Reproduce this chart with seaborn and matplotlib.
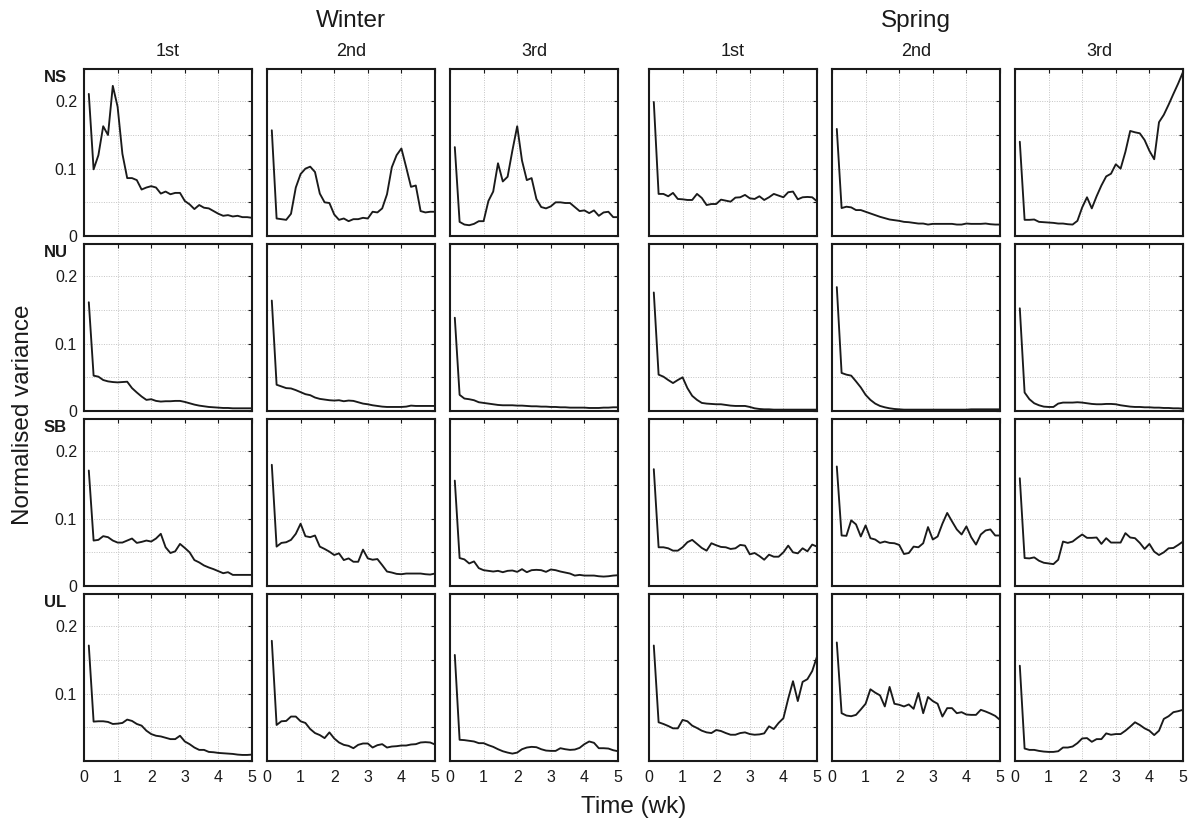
import numpy as np
import pandas as pd
import seaborn as sns
import matplotlib
matplotlib.use("Agg")
import matplotlib.pyplot as plt

"""
# normalised variance over five weeks, per site (rows),
# season and deployment (columns)
"""

# one value per day, days 1..35
days = list(range(1, 36))

sites = ["NS", "NU", "SB", "UL"]
seasons = ["Winter", "Spring"]
deployments = ["1st", "2nd", "3rd"]

# ---- NS ----
ns_winter_1 = [0.211, 0.099, 0.12, 0.163, 0.15, 0.223, 0.192, 0.122, 0.086, 0.086,
               0.083, 0.069, 0.072, 0.074, 0.072, 0.063, 0.066, 0.062, 0.064, 0.064,
               0.052, 0.047, 0.040, 0.046, 0.042, 0.041, 0.037, 0.033, 0.030, 0.031,
               0.029, 0.030, 0.028, 0.028, 0.027]
ns_winter_2 = [0.157, 0.026, 0.025, 0.024, 0.033, 0.072, 0.092, 0.100, 0.103, 0.095,
               0.063, 0.050, 0.049, 0.032, 0.024, 0.026, 0.022, 0.025, 0.025, 0.027,
               0.026, 0.036, 0.035, 0.041, 0.062, 0.102, 0.120, 0.130, 0.102, 0.073,
               0.075, 0.037, 0.035, 0.036, 0.036]
ns_winter_3 = [0.132, 0.021, 0.017, 0.016, 0.018, 0.022, 0.022, 0.052, 0.066, 0.108,
               0.081, 0.088, 0.127, 0.163, 0.112, 0.083, 0.086, 0.055, 0.043, 0.041,
               0.044, 0.050, 0.050, 0.049, 0.049, 0.043, 0.037, 0.038, 0.034, 0.038,
               0.030, 0.035, 0.036, 0.028, 0.028]
ns_spring_1 = [0.199, 0.0625, 0.0625, 0.059, 0.064, 0.055, 0.0545, 0.0535, 0.0535, 0.0625,
               0.0565, 0.046, 0.0475, 0.0475, 0.054, 0.0525, 0.051, 0.057, 0.0575, 0.061,
               0.056, 0.055, 0.059, 0.0535, 0.0575, 0.0625, 0.06, 0.0575, 0.065, 0.066,
               0.0545, 0.0575, 0.058, 0.0575, 0.0515]
ns_spring_2 = [0.159, 0.0415, 0.0435, 0.0425, 0.0385, 0.0385, 0.036, 0.0335, 0.031, 0.0285,
               0.0265, 0.0245, 0.0235, 0.0225, 0.021, 0.0205, 0.0195, 0.0185, 0.0185, 0.017,
               0.018, 0.018, 0.018, 0.018, 0.018, 0.017, 0.017, 0.0185, 0.018, 0.018,
               0.018, 0.0185, 0.0175, 0.017, 0.017]
ns_spring_3 = [0.14, 0.024, 0.024, 0.0245, 0.021, 0.0205, 0.02, 0.0195, 0.0185, 0.0185,
               0.0175, 0.017, 0.0225, 0.0425, 0.0575, 0.041, 0.059, 0.075, 0.0885, 0.0925,
               0.1065, 0.1, 0.125, 0.156, 0.154, 0.1525, 0.1425, 0.1265, 0.114, 0.169,
               0.18, 0.195, 0.211, 0.2265, 0.2435]

# ---- NU ----
nu_winter_1 = [0.1615, 0.0525, 0.051, 0.046, 0.044, 0.043, 0.0425, 0.043, 0.0435, 0.034,
               0.0275, 0.0215, 0.0165, 0.0175, 0.015, 0.014, 0.0145, 0.0145, 0.015, 0.015,
               0.0135, 0.0115, 0.0095, 0.008, 0.007, 0.006, 0.0055, 0.005, 0.0045, 0.0045,
               0.004, 0.004, 0.004, 0.004, 0.004]
nu_winter_2 = [0.164, 0.039, 0.0365, 0.034, 0.0335, 0.031, 0.028, 0.025, 0.0235, 0.02,
               0.018, 0.017, 0.016, 0.0155, 0.016, 0.0145, 0.0155, 0.015, 0.013, 0.011,
               0.01, 0.0085, 0.0075, 0.0065, 0.006, 0.006, 0.006, 0.006, 0.0065, 0.008,
               0.0075, 0.0075, 0.0075, 0.0075, 0.0075]
nu_winter_3 = [0.1385, 0.024, 0.0185, 0.0175, 0.016, 0.013, 0.012, 0.011, 0.010, 0.009,
               0.0085, 0.0085, 0.0085, 0.008, 0.008, 0.0075, 0.007, 0.007, 0.0065, 0.0065,
               0.006, 0.006, 0.0055, 0.0055, 0.005, 0.005, 0.005, 0.005, 0.0045, 0.0045,
               0.0045, 0.005, 0.005, 0.0055, 0.0055]
nu_spring_1 = [0.176, 0.054, 0.051, 0.046, 0.0415, 0.046, 0.05, 0.034, 0.0225, 0.0165,
               0.012, 0.011, 0.0105, 0.01, 0.01, 0.009, 0.008, 0.0075, 0.0075, 0.0075,
               0.006, 0.004, 0.003, 0.0025, 0.0025, 0.002, 0.002, 0.002, 0.002, 0.002,
               0.002, 0.002, 0.002, 0.002, 0.002]
nu_spring_2 = [0.184, 0.0565, 0.054, 0.0525, 0.044, 0.035, 0.024, 0.0165, 0.011, 0.0075,
               0.0055, 0.004, 0.003, 0.0025, 0.002, 0.002, 0.002, 0.002, 0.002, 0.002,
               0.002, 0.002, 0.002, 0.002, 0.002, 0.002, 0.002, 0.002, 0.0025, 0.0025,
               0.0025, 0.0025, 0.0025, 0.0025, 0.0025]
nu_spring_3 = [0.1525, 0.0275, 0.0175, 0.0115, 0.0085, 0.0065, 0.006, 0.006, 0.011, 0.0125,
               0.0125, 0.0125, 0.013, 0.0125, 0.0115, 0.0105, 0.01, 0.01, 0.0105, 0.0105,
               0.01, 0.0085, 0.0075, 0.0065, 0.006, 0.006, 0.0055, 0.0055, 0.005, 0.005,
               0.0045, 0.0045, 0.004, 0.004, 0.0035]

# ---- SB ----
sb_winter_1 = [0.1715, 0.0675, 0.0685, 0.074, 0.0725, 0.0675, 0.0645, 0.0645, 0.0675, 0.0705,
               0.064, 0.0655, 0.0675, 0.066, 0.0705, 0.0775, 0.0575, 0.049, 0.0515, 0.0625,
               0.0565, 0.05, 0.0385, 0.035, 0.0305, 0.0275, 0.025, 0.022, 0.019, 0.0205,
               0.0165, 0.0165, 0.0165, 0.0165, 0.0165]
sb_winter_2 = [0.18, 0.0585, 0.064, 0.065, 0.0685, 0.0775, 0.0925, 0.074, 0.0725, 0.075,
               0.0585, 0.055, 0.051, 0.046, 0.0485, 0.0385, 0.041, 0.036, 0.036, 0.054,
               0.041, 0.039, 0.04, 0.031, 0.0215, 0.02, 0.018, 0.0175, 0.0185, 0.0185,
               0.0185, 0.0185, 0.0175, 0.017, 0.0185]
sb_winter_3 = [0.1565, 0.0415, 0.0395, 0.0335, 0.0365, 0.0265, 0.0235, 0.0225, 0.0215, 0.0225,
               0.0205, 0.0225, 0.023, 0.021, 0.025, 0.0205, 0.0235, 0.024, 0.0235, 0.021,
               0.0245, 0.0235, 0.0215, 0.02, 0.0185, 0.0155, 0.0165, 0.0155, 0.0155, 0.0155,
               0.0145, 0.014, 0.0145, 0.0155, 0.016]
sb_spring_1 = [0.1735, 0.0575, 0.0575, 0.056, 0.0525, 0.0525, 0.0575, 0.065, 0.0685, 0.0625,
               0.0565, 0.0525, 0.0635, 0.0605, 0.058, 0.0575, 0.055, 0.056, 0.061, 0.06,
               0.047, 0.049, 0.0445, 0.039, 0.0465, 0.0435, 0.0435, 0.05, 0.06, 0.05,
               0.0485, 0.056, 0.0515, 0.0615, 0.0585]
sb_spring_2 = [0.1775, 0.075, 0.0745, 0.0975, 0.0915, 0.0735, 0.09, 0.071, 0.069, 0.064,
               0.066, 0.064, 0.0635, 0.061, 0.0475, 0.049, 0.0585, 0.0575, 0.0635, 0.0875,
               0.069, 0.0735, 0.0925, 0.1085, 0.096, 0.084, 0.0765, 0.0885, 0.0725, 0.0615,
               0.0765, 0.0825, 0.084, 0.075, 0.075]
sb_spring_3 = [0.16, 0.0415, 0.041, 0.0425, 0.0375, 0.0345, 0.0335, 0.0325, 0.039, 0.066,
               0.064, 0.066, 0.0715, 0.0765, 0.0715, 0.0715, 0.072, 0.0625, 0.071, 0.0645,
               0.0645, 0.0645, 0.0785, 0.072, 0.071, 0.064, 0.055, 0.0625, 0.051, 0.046,
               0.05, 0.056, 0.0565, 0.061, 0.066]

# ---- UL ----
ul_winter_1 = [0.1715, 0.0585, 0.059, 0.059, 0.058, 0.055, 0.0555, 0.0565, 0.0615, 0.0595,
               0.055, 0.0525, 0.045, 0.04, 0.0375, 0.0365, 0.0345, 0.0325, 0.0325, 0.0375,
               0.029, 0.025, 0.02, 0.0165, 0.0165, 0.0135, 0.013, 0.012, 0.0115, 0.011,
               0.0105, 0.0095, 0.009, 0.009, 0.0095]
ul_winter_2 = [0.1785, 0.0535, 0.059, 0.0595, 0.066, 0.066, 0.059, 0.0565, 0.0475, 0.0415,
               0.0385, 0.034, 0.0425, 0.0335, 0.0275, 0.024, 0.0225, 0.019, 0.024, 0.026,
               0.026, 0.02, 0.0235, 0.025, 0.02, 0.0215, 0.022, 0.023, 0.023, 0.0245,
               0.025, 0.0275, 0.028, 0.0275, 0.0245]
ul_winter_3 = [0.1575, 0.0315, 0.031, 0.03, 0.029, 0.0265, 0.0265, 0.0235, 0.021, 0.0175,
               0.0145, 0.0125, 0.011, 0.0125, 0.0175, 0.02, 0.021, 0.0205, 0.0175, 0.0155,
               0.015, 0.015, 0.019, 0.0175, 0.0165, 0.017, 0.0195, 0.025, 0.029, 0.027,
               0.019, 0.019, 0.0185, 0.016, 0.0145]
ul_spring_1 = [0.1715, 0.0575, 0.055, 0.052, 0.0485, 0.0485, 0.061, 0.059, 0.0525, 0.049,
               0.045, 0.0425, 0.0415, 0.046, 0.0445, 0.0415, 0.039, 0.039, 0.0415, 0.0425,
               0.04, 0.039, 0.0395, 0.041, 0.0515, 0.0475, 0.0565, 0.0635, 0.0925, 0.1185,
               0.089, 0.1175, 0.1215, 0.1335, 0.155]
ul_spring_2 = [0.176, 0.071, 0.0675, 0.0665, 0.0685, 0.0765, 0.085, 0.1065, 0.1015, 0.0975,
               0.081, 0.11, 0.085, 0.0835, 0.081, 0.084, 0.0775, 0.101, 0.071, 0.095,
               0.089, 0.085, 0.066, 0.0785, 0.0785, 0.071, 0.0725, 0.069, 0.0685, 0.0685,
               0.076, 0.0735, 0.0705, 0.067, 0.061]
ul_spring_3 = [0.1415, 0.0185, 0.0165, 0.0165, 0.015, 0.014, 0.0135, 0.0135, 0.0145, 0.02,
               0.02, 0.0215, 0.0265, 0.0335, 0.034, 0.0285, 0.0325, 0.0325, 0.041, 0.039,
               0.04, 0.04, 0.045, 0.051, 0.0575, 0.0535, 0.0485, 0.045, 0.0385, 0.045,
               0.0625, 0.0665, 0.0725, 0.074, 0.076]

series = {
    "NS": [ns_winter_1, ns_winter_2, ns_winter_3, ns_spring_1, ns_spring_2, ns_spring_3],
    "NU": [nu_winter_1, nu_winter_2, nu_winter_3, nu_spring_1, nu_spring_2, nu_spring_3],
    "SB": [sb_winter_1, sb_winter_2, sb_winter_3, sb_spring_1, sb_spring_2, sb_spring_3],
    "UL": [ul_winter_1, ul_winter_2, ul_winter_3, ul_spring_1, ul_spring_2, ul_spring_3],
}

# build a long-form table for seaborn
records = []
for site in sites:
    for c, vals in enumerate(series[site]):
        for d, v in zip(days, vals):
            records.append({"site": site, "panel": c, "day": d, "value": v})
df = pd.DataFrame(records)
df["week"] = df["day"] / 7.0


# set plot style (fonts after set_theme, it resets them)
sns.set_theme(style="white")
plt.rcParams["font.family"] = ["Liberation Sans", "DejaVu Sans"]

W, H = 1189, 822
fig = plt.figure(figsize=(W / 100, H / 100), dpi=100)

# layout in pixels
panel_w, panel_h = 168, 167
col_left = [84 + c * 183 + (19 if c >= 3 else 0) for c in range(6)]
col_left[3:] = [x - 3 for x in col_left[3:]]
row_top = [69 + r * 175 for r in range(4)]

for r, site in enumerate(sites):
    for c in range(6):
        x0, y0 = col_left[c], row_top[r]
        ax = fig.add_axes([x0 / W, 1 - (y0 + panel_h) / H, panel_w / W, panel_h / H])
        sub = df[(df["site"] == site) & (df["panel"] == c)]
        sns.lineplot(data=sub, x="week", y="value", ax=ax, color="#1a1a1a",
                     linewidth=1.35)

        # axes limits, ticks and grid
        ax.set_xlim(0, 5)
        ax.set_ylim(0, 0.248)
        ax.set_xticks(range(6))
        ax.set_yticks([0, 0.05, 0.1, 0.15, 0.2])
        ax.set_axisbelow(True)
        ax.grid(True, linestyle=(0, (1, 1.5)), color="#c4c4c4", linewidth=0.7)
        ax.tick_params(direction="in", length=3, width=0.8, top=True, right=True,
                       labelsize=11.5, colors="#1a1a1a")
        ax.tick_params(axis="x", pad=6.5)
        ax.tick_params(axis="y", pad=5)
        for sp in ax.spines.values():
            sp.set_linewidth(1.5)
            sp.set_color("#1a1a1a")

        if c == 0:
            zero = "" if site == "UL" else "0"
            ax.set_yticklabels([zero, "", "0.1", "", "0.2"])
        else:
            ax.set_yticklabels([])
        if r == 3:
            ax.set_xticklabels([str(i) for i in range(6)])
        else:
            ax.set_xticklabels([])
        ax.set_xlabel("")
        ax.set_ylabel("")

    # site label above the y tick labels
    fig.text(44 / W, 1 - (row_top[r] + 8) / H, site, ha="left", va="center",
             fontsize=12, fontweight="bold", color="#1a1a1a")

# season and deployment headers
for g, season in enumerate(seasons):
    left = col_left[3 * g]
    right = col_left[3 * g + 2] + panel_w
    fig.text((left + right) / 2 / W, 1 - 21 / H, season, ha="center", va="center",
             fontsize=17.5, color="#1a1a1a")
    for k, dep in enumerate(deployments):
        cx = col_left[3 * g + k] + panel_w / 2
        fig.text(cx / W, 1 - 52 / H, dep, ha="center", va="center",
                 fontsize=13, color="#1a1a1a")

# shared axis labels
fig.text((col_left[0] + col_left[5] + panel_w) / 2 / W, 1 - 807 / H, "Time (wk)",
         ha="center", va="center", fontsize=17.5, color="#1a1a1a")
fig.text(23 / W, 1 - 415 / H, "Normalised variance", ha="center", va="center",
         rotation=90, fontsize=17.5, color="#1a1a1a")

fig.savefig("out.png", dpi=100)
